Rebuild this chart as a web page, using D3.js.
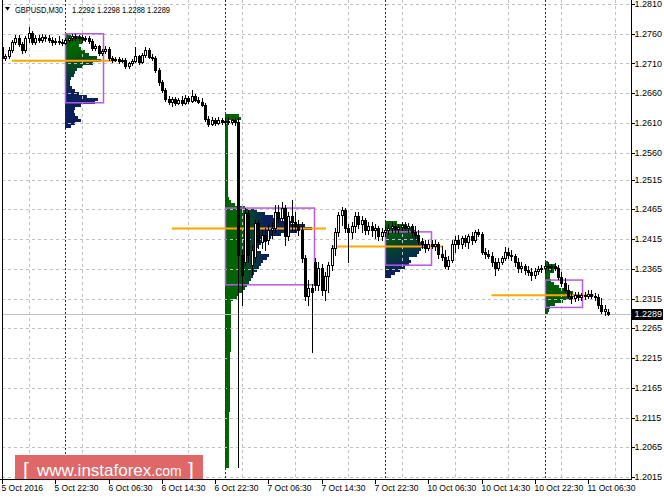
<!DOCTYPE html>
<html><head><meta charset="utf-8">
<script src="https://cdn.jsdelivr.net/npm/d3@7"></script>
<style>
body{margin:0;background:#fff}
svg{display:block}
text{font-family:"Liberation Sans",Arial,sans-serif}
</style>
</head><body>
<svg id="c" width="664" height="498"></svg>
<script>
// ---------------- DATA ----------------
const symbolTitle = "GBPUSD,M30";
const titleValues = "1.2292 1.2298 1.2288 1.2289";

const opens = [
1.2738,1.2719,1.2723,1.2733,1.2746,1.2753,1.2743,1.2733,1.2753,1.2761,
1.2746,1.2753,1.2749,1.2755,1.2753,1.2749,1.2746,1.2748,1.2746,1.2744,
1.2749,1.2753,1.2756,1.2753,1.2755,1.2751,1.2753,1.2748,1.2736,1.2739,
1.2728,1.2731,1.2734,1.2719,1.2716,1.2718,1.2714,1.2716,1.2706,1.2711,
1.2714,1.2723,1.2712,1.2724,1.2733,1.2721,1.2719,1.2699,1.2679,1.2665,
1.2650,1.2645,1.2650,1.2644,1.2649,1.2644,1.2652,1.2647,1.2655,1.2649,
1.2645,1.2640,1.2617,1.2608,1.2615,1.2610,1.2615,1.2612,1.2613,1.2612,
1.2615,1.2612,1.2388,1.2376,1.2459,1.2371,1.2385,1.2442,1.2410,1.2422,
1.2413,1.2430,1.2434,1.2460,1.2450,1.2467,1.2420,1.2454,1.2444,1.2437,
1.2430,1.2383,1.2319,1.2333,1.2376,1.2338,1.2366,1.2329,1.2353,1.2371,
1.2400,1.2427,1.2455,1.2464,1.2434,1.2427,1.2437,1.2454,1.2440,1.2447,
1.2430,1.2437,1.2430,1.2434,1.2420,1.2427,1.2430,1.2434,1.2437,1.2432,
1.2435,1.2439,1.2434,1.2437,1.2427,1.2422,1.2412,1.2407,1.2400,1.2407,
1.2403,1.2407,1.2390,1.2385,1.2370,1.2380,1.2407,1.2413,1.2407,1.2417,
1.2410,1.2420,1.2413,1.2427,1.2423,1.2393,1.2390,1.2386,1.2376,1.2366,
1.2376,1.2383,1.2393,1.2388,1.2386,1.2376,1.2366,1.2370,1.2363,1.2360,
1.2355,1.2361,1.2365,1.2366,1.2370,1.2368,1.2370,1.2366,1.2351,1.2341,
1.2329,1.2319,1.2316,1.2321,1.2318,1.2321,1.2319,1.2323,1.2319,1.2318,
1.2304,1.2294,1.2292];
const highs = [
1.2741,1.2726,1.2738,1.2749,1.2758,1.2758,1.2746,1.2756,1.2771,1.2765,
1.2758,1.2758,1.2760,1.2758,1.2758,1.2755,1.2753,1.2756,1.2751,1.2753,
1.2756,1.2760,1.2760,1.2758,1.2758,1.2756,1.2756,1.2751,1.2743,1.2741,
1.2734,1.2739,1.2738,1.2723,1.2721,1.2721,1.2719,1.2719,1.2712,1.2718,
1.2738,1.2724,1.2728,1.2738,1.2736,1.2726,1.2723,1.2702,1.2682,1.2669,
1.2655,1.2654,1.2654,1.2652,1.2655,1.2657,1.2655,1.2665,1.2659,1.2654,
1.2652,1.2644,1.2622,1.2620,1.2618,1.2620,1.2618,1.2618,1.2620,1.2617,
1.2618,1.2618,1.2397,1.2467,1.2464,1.2405,1.2447,1.2447,1.2430,1.2434,
1.2439,1.2444,1.2472,1.2472,1.2477,1.2472,1.2460,1.2481,1.2460,1.2447,
1.2444,1.2388,1.2346,1.2339,1.2383,1.2376,1.2373,1.2360,1.2376,1.2405,
1.2434,1.2460,1.2469,1.2467,1.2440,1.2444,1.2460,1.2460,1.2454,1.2450,
1.2444,1.2444,1.2440,1.2437,1.2434,1.2437,1.2440,1.2444,1.2442,1.2440,
1.2444,1.2444,1.2442,1.2440,1.2437,1.2430,1.2417,1.2413,1.2413,1.2413,
1.2413,1.2410,1.2403,1.2397,1.2386,1.2413,1.2420,1.2422,1.2420,1.2422,
1.2423,1.2427,1.2430,1.2432,1.2427,1.2400,1.2397,1.2393,1.2383,1.2383,
1.2386,1.2402,1.2400,1.2397,1.2390,1.2383,1.2376,1.2373,1.2370,1.2366,
1.2366,1.2370,1.2371,1.2375,1.2376,1.2373,1.2375,1.2371,1.2360,1.2349,
1.2338,1.2326,1.2326,1.2326,1.2324,1.2326,1.2329,1.2329,1.2324,1.2323,
1.2316,1.2304,1.2298];
const lows = [
1.2716,1.2716,1.2719,1.2729,1.2743,1.2739,1.2728,1.2729,1.2746,1.2743,
1.2743,1.2746,1.2746,1.2748,1.2746,1.2741,1.2743,1.2743,1.2741,1.2743,
1.2746,1.2749,1.2749,1.2749,1.2746,1.2748,1.2744,1.2733,1.2733,1.2724,
1.2724,1.2728,1.2716,1.2712,1.2714,1.2711,1.2712,1.2702,1.2702,1.2707,
1.2712,1.2709,1.2711,1.2721,1.2719,1.2716,1.2696,1.2674,1.2662,1.2647,
1.2642,1.2639,1.2640,1.2642,1.2640,1.2642,1.2644,1.2645,1.2647,1.2644,
1.2639,1.2613,1.2605,1.2607,1.2607,1.2608,1.2608,1.2607,1.2608,1.2608,
1.2607,1.2032,1.2304,1.2371,1.2376,1.2355,1.2376,1.2400,1.2400,1.2397,
1.2407,1.2417,1.2427,1.2444,1.2447,1.2405,1.2413,1.2430,1.2427,1.2422,
1.2376,1.2312,1.2304,1.2225,1.2329,1.2329,1.2321,1.2312,1.2326,1.2363,
1.2388,1.2420,1.2439,1.2427,1.2376,1.2417,1.2427,1.2434,1.2427,1.2423,
1.2423,1.2420,1.2417,1.2413,1.2413,1.2420,1.2423,1.2427,1.2427,1.2425,
1.2430,1.2430,1.2427,1.2420,1.2417,1.2407,1.2400,1.2393,1.2397,1.2400,
1.2397,1.2383,1.2380,1.2366,1.2365,1.2376,1.2393,1.2400,1.2400,1.2403,
1.2400,1.2407,1.2410,1.2420,1.2390,1.2383,1.2383,1.2370,1.2355,1.2363,
1.2373,1.2380,1.2383,1.2380,1.2370,1.2360,1.2360,1.2356,1.2355,1.2346,
1.2349,1.2356,1.2360,1.2360,1.2363,1.2361,1.2363,1.2348,1.2336,1.2326,
1.2316,1.2307,1.2311,1.2312,1.2312,1.2314,1.2316,1.2316,1.2312,1.2299,
1.2291,1.2287,1.2288];
const closes = [
1.2719,1.2723,1.2733,1.2746,1.2753,1.2743,1.2733,1.2753,1.2761,1.2746,
1.2753,1.2749,1.2755,1.2753,1.2749,1.2746,1.2748,1.2746,1.2744,1.2749,
1.2753,1.2756,1.2753,1.2755,1.2751,1.2753,1.2748,1.2736,1.2739,1.2728,
1.2731,1.2734,1.2719,1.2716,1.2718,1.2714,1.2716,1.2706,1.2711,1.2714,
1.2723,1.2712,1.2724,1.2733,1.2721,1.2719,1.2699,1.2679,1.2665,1.2650,
1.2645,1.2650,1.2644,1.2649,1.2644,1.2652,1.2647,1.2655,1.2649,1.2645,
1.2640,1.2617,1.2608,1.2615,1.2610,1.2615,1.2612,1.2613,1.2612,1.2615,
1.2612,1.2388,1.2355,1.2459,1.2388,1.2397,1.2442,1.2410,1.2422,1.2413,
1.2430,1.2434,1.2460,1.2450,1.2467,1.2420,1.2454,1.2444,1.2437,1.2430,
1.2383,1.2319,1.2333,1.2326,1.2338,1.2366,1.2329,1.2353,1.2371,1.2400,
1.2427,1.2455,1.2464,1.2434,1.2427,1.2437,1.2454,1.2440,1.2447,1.2430,
1.2437,1.2430,1.2434,1.2420,1.2427,1.2430,1.2434,1.2437,1.2432,1.2435,
1.2439,1.2434,1.2437,1.2427,1.2422,1.2412,1.2407,1.2400,1.2407,1.2403,
1.2407,1.2390,1.2385,1.2370,1.2380,1.2407,1.2413,1.2407,1.2417,1.2410,
1.2420,1.2413,1.2427,1.2423,1.2393,1.2390,1.2386,1.2376,1.2366,1.2376,
1.2383,1.2393,1.2388,1.2386,1.2376,1.2366,1.2370,1.2363,1.2360,1.2355,
1.2361,1.2365,1.2366,1.2370,1.2368,1.2370,1.2366,1.2351,1.2341,1.2329,
1.2319,1.2316,1.2321,1.2318,1.2321,1.2319,1.2323,1.2319,1.2318,1.2304,
1.2294,1.2297,1.2289];

const priceTicks = ["1.2810","1.2760","1.2710","1.2660","1.2610","1.2560","1.2515","1.2465",
  "1.2415","1.2365","1.2315","1.2265","1.2215","1.2165","1.2115","1.2065","1.2015"];
const timeLabels = ["5 Oct 2016","5 Oct 22:30","6 Oct 06:30","6 Oct 14:30","6 Oct 22:30","7 Oct 06:30",
  "7 Oct 14:30","7 Oct 22:30","10 Oct 06:30","10 Oct 14:30","10 Oct 22:30","11 Oct 06:30"];
const timeLabelBars = [0,16,32,48,64,80,96,112,128,144,160,176];
const gridBars = [8,24,40,56,72,88,104,120,136,152,168,184];
const daySeparatorBars = [19,67,115,163];

// daily volume profiles (bins of 0.0005 from top price downward)
const profileStartBars = [19,67,115,163];
const profileTopPrices = [1.2762,1.2625,1.2445,1.2378];
const profileBinSize = 0.0005;
const profile1Volumes = [60,160,200,180,140,160,200,240,320,360,280,180,120,100,90,60,50,50,70,100,140,220,330,300,160,100,90,100,130,160,100,60];
const profile2Volumes = [140,160,
  30,30,30,30,30,30,30,30,30,30,30,30,30,30,30,30,30,30,30,30,30,30,30,30,30,30,
  40,60,100,200,320,400,480,560,660,800,870,720,560,460,420,360,330,320,360,440,420,380,360,340,320,290,280,260,240,220,200,180,140,120,80,60,
  60,60,60,60,60,60,60,60,60,60,60,60,60,60,60,60,
  50,50,50,50,50,50,50,50,50,50,50,50,50,50,50,50,50,50,50,50,
  40,40,40,40,40,40,40,40,40,40,40,40,40,40,40,40,40,40,40];
const profile3Volumes = [120,220,280,300,320,330,340,380,440,360,340,320,240,260,240,200,150,100,60];
const profile4Volumes = [30,100,140,90,50,50,60,90,140,200,280,350,280,180,100,50,40,30];
const valueAreaHigh = [1.2760,1.2467,1.2427,1.2346];
const valueAreaLow  = [1.2644,1.2338,1.2371,1.2300];

// ---------------- STYLE ----------------
const green = "#006400", navy = "#0a1f5c";
const gradSpecs = [[0,0.22,0.35,0.62],[0.14,0.5,0.46,0.5],[0,0.15,0.4,0.85],[0,0,0,5]];

// ---------------- DRAW ----------------
const svg = d3.select("#c");
const L = 2, R = 631, T = 0, B = 479;
const x = d3.scaleLinear().domain([0,189]).range([2,631.37]);
const y = d3.scaleLinear().domain([1.2015,1.2810]).range([477,4]);
const vx = d3.scaleLinear().domain([0,1000]).range([0,100]);
const px = v => Math.round(x(v)) + 0.5;
const py = v => Math.round(y(v)) + 0.5;

svg.append("rect").attr("width",664).attr("height",498).attr("fill","#fff");
const defs = svg.append("defs");
defs.append("clipPath").attr("id","plot").append("rect").attr("x",L).attr("y",T).attr("width",R-L).attr("height",B-T);
const plot = svg.append("g").attr("clip-path","url(#plot)");

const profiles = [profile1Volumes,profile2Volumes,profile3Volumes,profile4Volumes].map((vol,j)=>({
  vol, start: profileStartBars[j], top: profileTopPrices[j], vah: valueAreaHigh[j], val: valueAreaLow[j]
}));

// profiles (objects behind chart)
const gProf = plot.append("g").attr("shape-rendering","crispEdges");
profiles.forEach((p,j)=>{
  const x0 = Math.round(x(p.start));
  const maxV = d3.max(p.vol);
  const yT = y(p.top), yB = y(p.top - profileBinSize*p.vol.length);
  const Hh = yB - yT, Wm = vx(maxV), g = gradSpecs[j];
  const lg = defs.append("linearGradient").attr("id","pg"+j).attr("gradientUnits","userSpaceOnUse")
    .attr("x1",x0+g[0]*Wm).attr("y1",yT+g[1]*Hh).attr("x2",x0+g[2]*Wm).attr("y2",yT+g[3]*Hh);
  lg.append("stop").attr("offset",0).attr("stop-color",green);
  lg.append("stop").attr("offset",1).attr("stop-color",navy);
  gProf.selectAll(null).data(p.vol).join("rect")
    .attr("x",x0)
    .attr("y",(v,k)=>Math.round(y(p.top - profileBinSize*k)))
    .attr("width",v=>Math.round(vx(v)))
    .attr("height",(v,k)=>Math.round(y(p.top - profileBinSize*(k+1))) - Math.round(y(p.top - profileBinSize*k)))
    .attr("fill","url(#pg"+j+")");
});

// grid
const gGrid = plot.append("g").attr("stroke","#c0c0c0").attr("stroke-dasharray","3,3").attr("stroke-width",1);
priceTicks.forEach(t=>{
  gGrid.append("line").attr("x1",L).attr("x2",R).attr("y1",py(+t)).attr("y2",py(+t));
});
gridBars.forEach(b=>{
  gGrid.append("line").attr("x1",px(b)).attr("x2",px(b)).attr("y1",T).attr("y2",B);
});
// day separators
daySeparatorBars.forEach(b=>{
  plot.append("line").attr("x1",px(b)).attr("x2",px(b)).attr("y1",T).attr("y2",B)
    .attr("stroke","#303030").attr("stroke-dasharray","2,2");
});
// current price line
const last = closes[closes.length-1];
plot.append("line").attr("x1",L).attr("x2",R).attr("y1",py(last)).attr("y2",py(last))
  .attr("stroke","#c0c0c0").attr("stroke-width",1);

// value area boxes + POC lines
profiles.forEach(p=>{
  const x0 = Math.round(x(p.start));
  const maxV = d3.max(p.vol), k = p.vol.indexOf(maxV);
  const w = vx(maxV);
  plot.append("rect").attr("x",x0+0.5).attr("y",y(p.vah)).attr("width",w+2)
    .attr("height",y(p.val)-y(p.vah)).attr("fill","none").attr("stroke","#b45ae6").attr("stroke-width",1.5);
  const pocY = y(p.top - profileBinSize*(k+0.5));
  plot.append("line").attr("x1",x(p.start-16)).attr("x2",x0+w+14).attr("y1",pocY).attr("y2",pocY)
    .attr("stroke","#ffa500").attr("stroke-width",2);
});

// candles
const gC = plot.append("g").attr("shape-rendering","crispEdges");
closes.forEach((c,i)=>{
  const o = opens[i], h = highs[i], l = lows[i];
  const cx = px(i);
  gC.append("line").attr("x1",cx).attr("x2",cx).attr("y1",Math.round(y(h))).attr("y2",Math.round(y(l))+1)
    .attr("stroke","#000");
  const top = Math.round(y(Math.max(o,c))), bot = Math.round(y(Math.min(o,c)));
  if (c > o) {
    gC.append("rect").attr("x",cx-1).attr("y",top+0.5).attr("width",2).attr("height",Math.max(1,bot-top))
      .attr("fill","#fff").attr("stroke","#000");
  } else {
    gC.append("rect").attr("x",cx-1.5).attr("y",top).attr("width",3).attr("height",Math.max(1,bot-top+1))
      .attr("fill","#000");
  }
});

// watermark
const wm = svg.append("g");
wm.append("rect").attr("x",15).attr("y",455).attr("width",188).attr("height",25).attr("fill","#df6767");
wm.append("text").attr("x",23).attr("y",477).attr("fill","#fff").attr("font-size",21).text("[");
const wt = wm.append("text").attr("x",37).attr("y",476).attr("fill","#fff");
wt.append("tspan").attr("font-size",17).text("www.instaforex");
wt.append("tspan").attr("font-size",14).text(".com");
wm.append("text").attr("x",188).attr("y",477).attr("fill","#fff").attr("font-size",21).text("]");

// axes frame
svg.append("line").attr("x1",R+0.5).attr("x2",R+0.5).attr("y1",0).attr("y2",B+1).attr("stroke","#000");
svg.append("line").attr("x1",0).attr("x2",R+1).attr("y1",B+0.5).attr("y2",B+0.5).attr("stroke","#000");
svg.append("line").attr("x1",L+0.5).attr("x2",L+0.5).attr("y1",0).attr("y2",B).attr("stroke","#000");

// y ticks & labels
priceTicks.forEach(t=>{
  svg.append("line").attr("x1",R+1).attr("x2",R+4).attr("y1",py(+t)).attr("y2",py(+t)).attr("stroke","#000");
  svg.append("text").attr("x",R+3.5).attr("y",y(+t)).attr("dy","0.35em").attr("font-size",9).attr("fill","#000").text(t);
});
// x ticks & labels
timeLabels.forEach((t,i)=>{
  const xx = px(timeLabelBars[i]);
  svg.append("line").attr("x1",xx).attr("x2",xx).attr("y1",B+1).attr("y2",B+5).attr("stroke","#000");
  svg.append("text").attr("x",xx-1).attr("y",491).attr("font-size",8.5).attr("fill","#000").text(t);
});

// current price marker
svg.append("rect").attr("x",R+1).attr("y",Math.round(y(last))-5).attr("width",31).attr("height",11).attr("fill","#000");
svg.append("text").attr("x",R+3.5).attr("y",y(last)).attr("dy","0.35em").attr("font-size",9).attr("fill","#fff")
  .text(d3.format(".4f")(last));

// title
svg.append("path").attr("d","M5,7 L10,7 L7.5,10.5 Z").attr("fill","#000");
svg.append("text").attr("x",15).attr("y",12.5).attr("font-size",9).attr("fill","#000")
  .attr("textLength",48).attr("lengthAdjust","spacingAndGlyphs").text(symbolTitle);
svg.append("text").attr("x",72).attr("y",12.5).attr("font-size",9).attr("fill","#000")
  .attr("textLength",98).attr("lengthAdjust","spacingAndGlyphs").text(titleValues);
</script>
</body></html>
